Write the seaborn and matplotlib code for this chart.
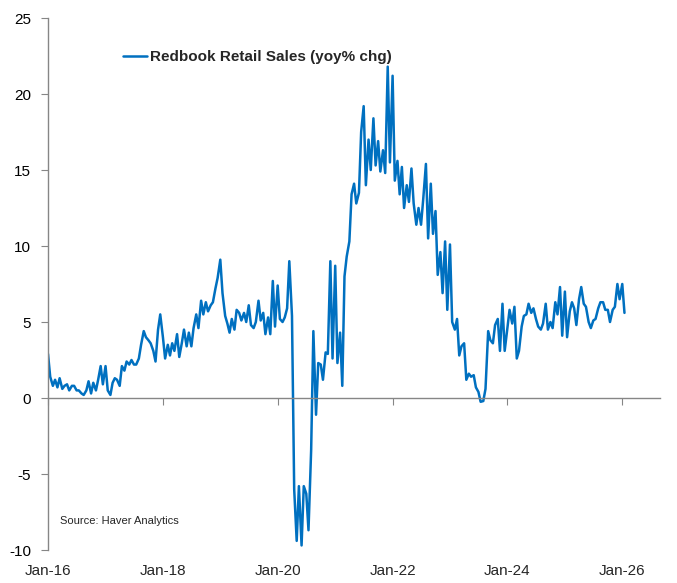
import numpy as np
import pandas as pd
import matplotlib
matplotlib.use('Agg')
import matplotlib.pyplot as plt
import seaborn as sns

# Redbook retail sales, yoy % chg (1st & 15th)
yoy_2016 = [2.9, 1.4, 0.8, 1.2, 0.7, 1.3, 0.6, 0.8, 0.9, 0.5, 0.8, 0.8,
            0.5, 0.5, 0.3, 0.2, 0.5, 1.1, 0.3, 1.0, 0.5, 1.2, 2.1, 0.9]
yoy_2017 = [2.1, 0.5, 0.2, 1.0, 1.3, 1.2, 0.8, 2.1, 1.8, 2.4, 2.2, 2.5,
            2.2, 2.2, 2.6, 3.5, 4.4, 4.0, 3.8, 3.6, 3.1, 2.4, 4.5, 5.5]
yoy_2018 = [4.0, 2.6, 3.5, 2.8, 3.6, 3.1, 4.2, 2.7, 3.6, 4.5, 3.4, 4.3,
            3.4, 4.6, 5.5, 4.6, 6.4, 5.5, 6.3, 5.7, 6.1, 6.3, 7.2, 7.9]
yoy_2019 = [9.1, 6.9, 5.4, 4.9, 4.3, 5.2, 4.5, 5.8, 5.6, 5.1, 5.6, 5.0,
            6.1, 4.8, 4.6, 5.0, 6.4, 5.1, 5.6, 4.2, 5.3, 4.2, 7.7, 4.7]
yoy_2020 = [7.4, 5.2, 5.0, 5.3, 5.9, 9.0, 5.4, -6.0, -9.4, -5.8, -9.7, -5.8,
            -6.3, -8.7, -3.4, 4.4, -1.1, 2.3, 2.2, 1.2, 3.0, 2.9, 9.0, 2.6]
yoy_2021 = [8.7, 2.3, 4.3, 0.8, 8.0, 9.3, 10.3, 13.4, 14.1, 12.8, 13.5, 17.5,
            19.2, 14.0, 17.0, 15.0, 18.4, 15.3, 16.9, 14.9, 16.3, 14.8, 21.8, 15.5]
yoy_2022 = [21.2, 14.3, 15.6, 13.4, 15.2, 12.5, 14.0, 12.9, 15.1, 12.8, 11.4, 12.5,
            11.4, 13.1, 15.4, 10.5, 14.1, 10.8, 12.3, 8.1, 9.6, 6.9, 10.3, 5.8]
yoy_2023 = [10.1, 5.0, 4.5, 5.2, 2.8, 3.4, 3.6, 1.2, 1.6, 1.4, 1.5, 0.7,
            0.4, -0.25, -0.2, 0.6, 4.4, 3.8, 3.6, 4.8, 5.2, 3.1, 6.2, 3.1]
yoy_2024 = [4.6, 5.8, 4.9, 6.0, 2.6, 3.1, 4.7, 5.4, 5.5, 6.2, 5.6, 5.9,
            5.2, 4.7, 4.5, 4.9, 6.2, 4.5, 5.0, 4.6, 6.3, 5.5, 7.3, 4.1]
yoy_2025 = [7.0, 4.0, 5.7, 6.3, 5.9, 4.8, 6.5, 7.3, 6.2, 6.0, 5.0, 4.6,
            5.1, 5.2, 5.9, 6.3, 6.3, 5.8, 5.8, 5.0, 5.8, 6.0, 7.5, 6.5]
yoy_2026 = [7.5, 5.6]

tick_years = [2016, 2018, 2020, 2022, 2024, 2026]
y_ticks = [-10, -5, 0, 5, 10, 15, 20, 25]

values = (yoy_2016 + yoy_2017 + yoy_2018 + yoy_2019 + yoy_2020 + yoy_2021
          + yoy_2022 + yoy_2023 + yoy_2024 + yoy_2025 + yoy_2026)
dates = pd.date_range('2016-01-01', periods=len(values), freq='SMS')
df = pd.DataFrame({'date': dates, 'yoy': values})

sns.set_style('white')
plt.rcParams['font.family'] = ['Liberation Sans', 'DejaVu Sans']
plt.rcParams['axes.unicode_minus'] = False

fig = plt.figure(figsize=(6.77, 5.83), dpi=100)
ax = fig.add_axes([48 / 677, 33 / 583, 612 / 677, 532 / 583])

sns.lineplot(data=df, x='date', y='yoy', ax=ax, color='#0070C0', lw=1.8,
             label='Redbook Retail Sales (yoy% chg)')

ax.set_xlim(pd.Timestamp('2016-01-01'), pd.Timestamp('2026-08-29'))
ax.set_ylim(-10, 25)
ax.set_yticks(y_ticks)
ax.set_xlabel('')
ax.set_ylabel('')

gray = '#868686'
ax.spines['top'].set_visible(False)
ax.spines['right'].set_visible(False)
ax.spines['bottom'].set_position(('data', 0))
for s in ['left', 'bottom']:
    ax.spines[s].set_color(gray)
    ax.spines[s].set_linewidth(1)

tick_dates = [pd.Timestamp(f'{y}-01-01') for y in tick_years]
ax.set_xticks(tick_dates)
ax.tick_params(axis='x', bottom=True, direction='out', length=5, color=gray,
               labelbottom=False)
ax.tick_params(axis='y', left=True, direction='out', length=5, color=gray,
               labelsize=11, pad=7, labelcolor='black')

# x labels sit under the -10 line, not on the zero axis
for d in tick_dates:
    ax.text(d, -0.04, d.strftime('%b-%y'), transform=ax.get_xaxis_transform(),
            ha='center', va='center', fontsize=11)

ax.legend(loc='center left', bbox_to_anchor=(0.1225, 0.9267), frameon=False,
          prop={'weight': 'bold', 'size': 11}, handlelength=1.6,
          handletextpad=0.15, borderpad=0, borderaxespad=0)

ax.text(0.0196, 0.0545, 'Source: Haver Analytics', transform=ax.transAxes,
        ha='left', va='center', fontsize=8)

fig.savefig('out.png', dpi=100)
